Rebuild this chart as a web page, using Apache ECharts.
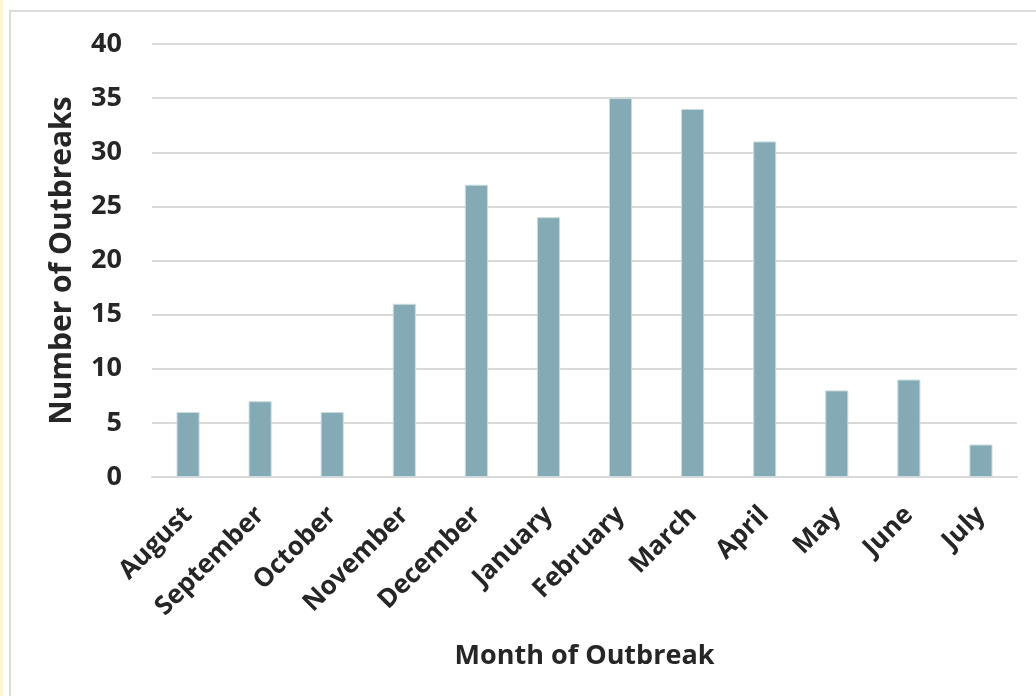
<!DOCTYPE html>
<html>
<head>
<meta charset="utf-8">
<script src="https://cdn.jsdelivr.net/npm/echarts@6/dist/echarts.min.js"></script>
<style>
  html, body { margin: 0; padding: 0; background: #ffffff; }
  #chart { width: 1036px; height: 696px; }
</style>
</head>
<body>
<div id="chart"></div>
<script>
// Outbreaks per month, August through July
const months = ['August', 'September', 'October', 'November', 'December', 'January',
                'February', 'March', 'April', 'May', 'June', 'July'];
const outbreaks = [6, 7, 6, 16, 27, 24, 35, 34, 31, 8, 9, 3];
const yTicks = { min: 0, max: 40, interval: 5 };

const font = '"Open Sans", Lato, sans-serif';
const ink = '#262626';
const chart = echarts.init(document.getElementById('chart'));

chart.setOption({
  backgroundColor: '#ffffff',
  animation: false,
  graphic: [
    { type: 'rect', shape: { x: 0, y: 0, width: 3, height: 696 },
      style: { fill: '#fbf5d2' }, silent: true },
    { type: 'rect', shape: { x: 10, y: 11, width: 1040, height: 700 },
      style: { fill: 'none', stroke: '#dcdcdc', lineWidth: 2 }, silent: true }
  ],
  grid: { left: 152, right: 19, top: 44, bottom: 219, containLabel: false },
  xAxis: {
    type: 'category',
    data: months,
    axisTick: { show: false },
    axisLine: { show: true, lineStyle: { color: '#d9d9d9', width: 2 } },
    axisLabel: {
      rotate: 45, interval: 0, margin: 34,
      fontFamily: font, fontWeight: 'bold', fontSize: 26, color: ink
    },
    name: 'Month of Outbreak',
    nameLocation: 'middle',
    nameGap: 166,
    nameTextStyle: { fontFamily: font, fontWeight: 'bold', fontSize: 27, color: ink }
  },
  yAxis: {
    type: 'value',
    min: yTicks.min, max: yTicks.max, interval: yTicks.interval,
    axisLine: { show: false },
    axisTick: { show: false },
    splitLine: { lineStyle: { color: '#d9d9d9', width: 2 } },
    axisLabel: {
      margin: 30, fontFamily: font, fontWeight: 'bold', fontSize: 27, color: ink
    },
    name: 'Number of Outbreaks',
    nameLocation: 'middle',
    nameGap: 75,
    nameTextStyle: { fontFamily: font, fontWeight: 'bold', fontSize: 30, color: ink }
  },
  series: [{
    type: 'bar',
    data: outbreaks,
    barWidth: '32%',
    itemStyle: { color: '#84aab5', borderColor: '#c9dbe0', borderWidth: 1 }
  }]
});
</script>
</body>
</html>
